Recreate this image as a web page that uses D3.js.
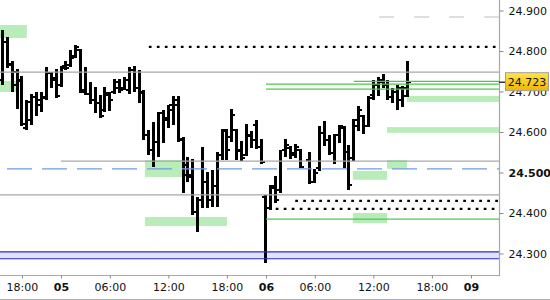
<!DOCTYPE html>
<html><head><meta charset="utf-8">
<script src="https://cdn.jsdelivr.net/npm/d3@7/dist/d3.min.js"></script>
<style>
html,body{margin:0;padding:0;background:#fff;}
svg{display:block;font-family:"DejaVu Sans",sans-serif;}
</style></head>
<body><svg id="c" width="550" height="300"></svg>
<script>
// ---- data (bar index = 30-min slot; null = no bar) ----
const opens  = [24.729,24.822,24.768,24.748,24.726,24.610,24.630,24.687,24.667,24.684,24.746,24.733,24.716,24.763,24.766,24.788,24.803,24.699,24.694,24.679,24.672,24.654,24.691,24.699,24.709,24.709,24.704,24.753,24.709,24.699,24.593,24.556,24.575,24.647,24.630,24.654,24.679,24.580,24.519,24.494,24.403,24.432,24.477,24.432,24.467,24.543,24.603,24.588,24.605,24.553,24.543,24.590,24.617,24.563,24.440,24.412,24.462,24.457,24.556,24.561,24.548,24.556,null,24.531,24.477,24.511,24.598,24.580,24.548,24.593,24.610,24.551,24.536,24.615,24.640,24.615,24.691,24.716,24.729,24.716,24.687,24.699,24.679,24.689];
const highs  = [24.852,24.835,24.775,24.756,24.738,24.679,24.694,24.699,24.699,24.761,24.748,24.756,24.763,24.775,24.803,24.815,24.805,24.761,24.724,24.711,24.691,24.711,24.699,24.731,24.731,24.736,24.761,24.763,24.753,24.704,24.605,24.625,24.650,24.654,24.667,24.689,24.689,24.588,24.538,24.533,24.440,24.563,24.501,24.506,24.551,24.608,24.608,24.657,24.608,24.578,24.620,24.603,24.630,24.583,24.445,24.469,24.491,24.556,24.583,24.566,24.570,24.558,null,24.551,24.509,24.615,24.627,24.593,24.595,24.617,24.615,24.568,24.632,24.664,24.642,24.689,24.729,24.736,24.743,24.729,24.709,24.716,24.714,24.775];
const lows   = [24.716,24.758,24.699,24.657,24.615,24.605,24.617,24.640,24.650,24.679,24.709,24.684,24.711,24.753,24.761,24.783,24.696,24.691,24.669,24.647,24.635,24.650,24.652,24.694,24.696,24.704,24.694,24.699,24.672,24.580,24.543,24.514,24.538,24.573,24.610,24.617,24.575,24.450,24.477,24.395,24.353,24.412,24.412,24.415,24.415,24.531,24.531,24.575,24.531,24.528,24.541,24.561,24.558,24.521,24.277,24.408,24.425,24.450,24.538,24.533,24.536,24.511,null,24.472,24.474,24.504,24.566,24.543,24.521,24.573,24.511,24.457,24.528,24.603,24.595,24.612,24.679,24.689,24.709,24.679,24.672,24.654,24.662,24.687];
const closes = [24.822,24.766,24.716,24.729,24.620,24.674,24.687,24.679,24.687,24.746,24.729,24.689,24.758,24.758,24.783,24.810,24.704,24.694,24.679,24.672,24.640,24.696,24.679,24.724,24.704,24.729,24.753,24.709,24.696,24.593,24.556,24.575,24.647,24.635,24.667,24.667,24.583,24.494,24.489,24.403,24.432,24.477,24.432,24.467,24.543,24.605,24.556,24.642,24.556,24.536,24.593,24.580,24.563,24.526,24.412,24.467,24.432,24.556,24.568,24.543,24.563,24.514,null,24.477,24.499,24.598,24.580,24.548,24.593,24.615,24.551,24.469,24.630,24.654,24.615,24.684,24.716,24.724,24.716,24.687,24.699,24.709,24.709,24.723];
const lastPrice = 24.723;

const xTickIdx    = [4, 12, 22, 34, 46, 54, 64, 76, 88, 96];
const xTickLabels = ["18:00","05","06:00","12:00","18:00","06","06:00","12:00","18:00","09"];
const xTickBold   = ["05","06","09"];
const yTicks      = [24.3, 24.4, 24.5, 24.6, 24.7, 24.8, 24.9];
const yTickBold   = [24.5];

// horizontal levels: [price, start slot]
const grayLevels   = [24.748, 24.528, 24.445];
const grayStarts   = [-0.5, 12, -0.5];
const greenLevels  = [24.725, 24.718, 24.706, 24.385];
const greenStarts  = [72, 54, 54, 54];
const dotLevels    = [24.810, 24.430, 24.410];
const dotStarts    = [30, 60, 56];
const blueDashLevel = 24.509;
const grayDashLevel = 24.884, grayDashStart = 77.2;
const bandLevels   = [24.304, 24.287];

// green zones: [startSlot, endSlot (null = right edge), top, bottom]
const zoneStart = [-0.5, -0.5, 29.2, 29.2, 82.9, 78.8, 78.8, 71.8, 71.8];
const zoneEnd   = [5.0, 2.75, 38.0, 46.0, null, null, 82.9, 78.8, 78.8];
const zoneTop   = [24.864, 24.726, 24.531, 24.390, 24.689, 24.612, 24.531, 24.504, 24.400];
const zoneBot   = [24.832, 24.699, 24.489, 24.368, 24.674, 24.598, 24.509, 24.482, 24.375];

// ---- chart ----
const W = 550, H = 300, plotR = 499, plotB = 275;
const svg = d3.select("#c");
const x = d3.scaleLinear().domain([-0.5, 101.75]).range([0, plotR]);
const y = d3.scaleLinear().domain([24.3, 24.9]).range([253.5, 10.5]);
const xMax = x.domain()[1];

// zones
svg.append("g").selectAll("rect").data(zoneStart.map((s,i)=>i)).join("rect")
  .attr("x", i => x(zoneStart[i]))
  .attr("width", i => x(zoneEnd[i] == null ? xMax : zoneEnd[i]) - x(zoneStart[i]))
  .attr("y", i => y(zoneTop[i]))
  .attr("height", i => y(zoneBot[i]) - y(zoneTop[i]))
  .attr("fill", "#b8ecb8");

// blue band
svg.append("rect").attr("x", 0).attr("width", plotR)
  .attr("y", y(bandLevels[0])).attr("height", y(bandLevels[1]) - y(bandLevels[0]))
  .attr("fill", "#e2e2f8");
const lines = svg.append("g").attr("class","lines");

// bars
const bars = svg.append("g").attr("shape-rendering","crispEdges").attr("fill","#000");
opens.forEach((o, i) => {
  if (o == null) return;
  const cx = x(i);
  bars.append("rect").attr("x", cx - 1.5).attr("width", 3)
    .attr("y", y(highs[i])).attr("height", Math.max(1, y(lows[i]) - y(highs[i])));
  bars.append("rect").attr("x", cx - 3.5).attr("width", 2.5)
    .attr("y", y(o) - 1).attr("height", 2);
  bars.append("rect").attr("x", cx + 1).attr("width", 2.5)
    .attr("y", y(closes[i]) - 1).attr("height", 2);
});

// level lines (on top)
const L = svg.append("g");
function hline(p, s, color, w, dash, off) {
  const l = L.append("line").attr("x1", x(s)).attr("x2", plotR)
    .attr("y1", y(p)).attr("y2", y(p)).attr("stroke", color).attr("stroke-width", w);
  if (dash) l.attr("stroke-dasharray", dash);
  if (off != null) l.attr("stroke-dashoffset", off);
  return l;
}
bandLevels.forEach(p => hline(p, -0.5, "#2a2ad0", 1.2));
grayLevels.forEach((p,i) => hline(p, grayStarts[i], "#a8a8a8", 1.2));
hline(grayDashLevel, grayDashStart, "#d4d4d4", 1.5, "15 20");
hline(blueDashLevel, -0.5, "#6f9be8", 1.3, "25 10", 28);
greenLevels.forEach((p,i) => hline(p, greenStarts[i], "#4cc84c", 1.2));
dotLevels.forEach((p,i) => hline(p, dotStarts[i], "#000", 2.2, "2.7 5.3"));

// frame
svg.append("line").attr("x1", plotR+0.5).attr("x2", plotR+0.5).attr("y1", 0).attr("y2", plotB)
  .attr("stroke", "#a8a8a8").attr("stroke-width", 1.2);
svg.append("line").attr("x1", 0).attr("x2", plotR+1).attr("y1", plotB+0.5).attr("y2", plotB+0.5)
  .attr("stroke", "#a8a8a8").attr("stroke-width", 1.2);
svg.append("line").attr("x1", 0).attr("x2", W).attr("y1", H-0.5).attr("y2", H-0.5)
  .attr("stroke", "#b0b0b0").attr("stroke-width", 1);

// y axis
const ya = svg.append("g").attr("transform", `translate(${plotR+0.5},0)`)
  .call(d3.axisRight(y).tickValues(yTicks).tickFormat(d3.format(".3f")).tickSize(4).tickSizeOuter(0).tickPadding(5));
ya.select(".domain").remove();
ya.selectAll(".tick line").attr("stroke", "#888");
ya.selectAll(".tick text").attr("fill", "#111").style("font-size", "11px")
  .style("font-family", '"DejaVu Sans",sans-serif')
  .style("font-weight", d => yTickBold.includes(d) ? "bold" : "normal");

// x axis
const xa = svg.append("g").attr("transform", `translate(0,${plotB+0.5})`)
  .call(d3.axisBottom(x).tickValues(xTickIdx).tickFormat((d,i) => xTickLabels[i]).tickSize(3).tickSizeOuter(0).tickPadding(5));
xa.select(".domain").remove();
xa.selectAll(".tick line").attr("stroke", "#888");
xa.selectAll(".tick text").attr("fill", "#111").style("font-size", "11px")
  .style("font-family", '"DejaVu Sans",sans-serif')
  .style("font-weight", (d,i) => xTickBold.includes(xTickLabels[i]) ? "bold" : "normal");

// last price marker
const defs = svg.append("defs");
const g = defs.append("linearGradient").attr("id","gold").attr("x1",0).attr("x2",0).attr("y1",0).attr("y2",1);
g.append("stop").attr("offset","0%").attr("stop-color","#ffe44a");
g.append("stop").attr("offset","100%").attr("stop-color","#f2b400");
const py = y(lastPrice);
svg.append("line").attr("x1", plotR).attr("x2", plotR+7).attr("y1", py).attr("y2", py)
  .attr("stroke", "#000").attr("stroke-width", 1.2);
svg.append("rect").attr("x", 505.5).attr("y", py - 9.5).attr("width", 43).attr("height", 18)
  .attr("fill", "url(#gold)").attr("stroke", "#a0a0a0").attr("stroke-width", 1);
svg.append("text").attr("x", 527).attr("y", py).attr("dy", "0.36em").attr("text-anchor", "middle")
  .style("font-size", "11px").attr("fill", "#111").text(d3.format(".3f")(lastPrice));
</script></body></html>
